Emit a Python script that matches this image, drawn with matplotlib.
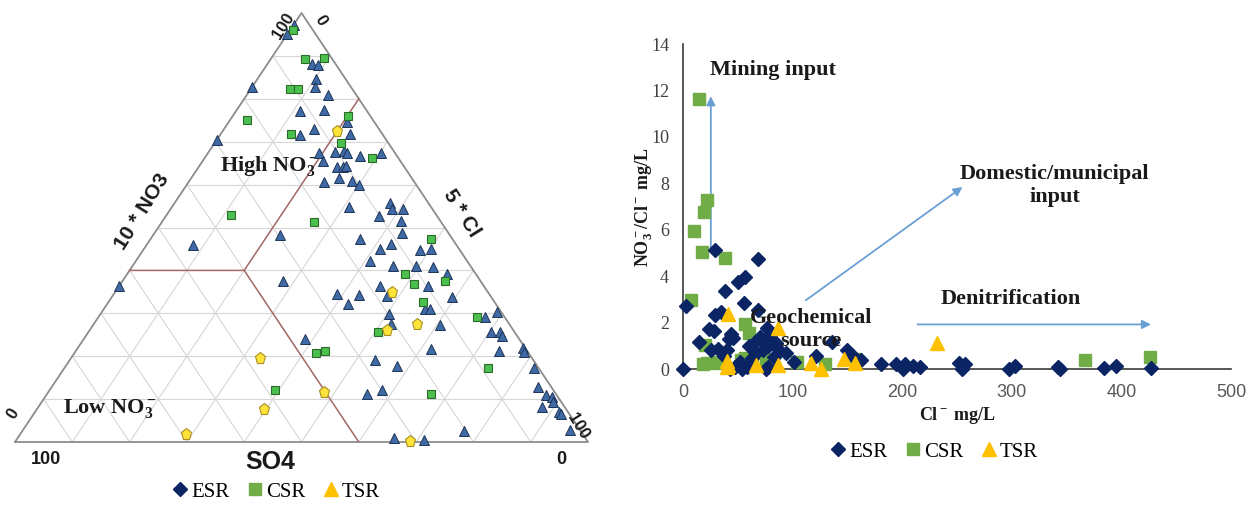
import matplotlib
matplotlib.use('Agg')
import matplotlib.pyplot as plt
from matplotlib.lines import Line2D
import numpy as np

plt.rcParams['mathtext.fontset'] = 'custom'
plt.rcParams['mathtext.rm'] = 'Liberation Serif:bold'
plt.rcParams['mathtext.it'] = 'Liberation Serif:italic:bold'
plt.rcParams['mathtext.bf'] = 'Liberation Serif:bold'

# ---------------- Ternary data (percent of 10*NO3 and 5*Cl; SO4 = remainder)
tern_esr_no3 = [97.3, 95.0, 88.0, 87.8, 84.5, 82.8, 80.9, 82.7, 77.1, 77.4, 74.6, 73.0, 71.6, 71.7,
                70.5, 67.4, 67.6, 67.8, 67.4, 66.7, 67.4, 65.5, 64.0, 64.0, 64.3, 60.6, 61.6, 60.9,
                59.8, 54.7, 55.8, 54.3, 54.3, 52.7, 51.6, 48.8, 48.2, 47.4, 45.1, 46.1, 44.8, 45.0,
                42.2, 41.1, 41.1, 40.9, 39.1, 36.3, 37.6, 46.0, 36.4, 34.5, 34.3, 32.2, 36.4, 34.1,
                31.0, 31.0, 29.8, 33.7, 27.5, 27.3, 29.1, 30.4, 25.6, 25.6, 24.7, 21.7, 21.1, 21.9,
                20.9, 24.0, 19.0, 17.8, 17.2, 12.8, 11.2, 12.2, 10.9, 10.5, 9.3, 8.1, 7.0, 6.6,
                2.6, 2.7, 0.9, 0.4]
tern_esr_cl = [0.1, 0.0, 7.8, 8.9, 10.3, 10.9, 14.1, 0.0, 11.2, 15.3, 20.6, 15.7, 14.0, 22.6,
               0.0, 19.3, 22.1, 23.6, 24.2, 26.9, 30.2, 21.0, 24.2, 25.2, 25.7, 23.7, 25.7, 28.3,
               30.1, 30.9, 37.5, 38.6, 40.5, 37.1, 41.6, 43.2, 22.2, 36.5, 41.1, 42.5, 48.2, 50.1,
               40.8, 45.4, 49.4, 52.5, 55.9, 54.0, 27.9, 8.1, 0.0, 39.0, 42.8, 42.1, 45.5, 47.8,
               56.1, 56.9, 50.3, 59.5, 51.8, 60.6, 67.4, 68.9, 70.3, 71.8, 72.6, 61.7, 74.0, 77.7,
               78.3, 38.6, 53.4, 57.7, 82.0, 84.9, 55.8, 58.0, 87.2, 88.4, 89.3, 87.9, 91.5, 92.0,
               77.1, 95.5, 65.7, 71.2]

tern_csr_no3 = [96.0, 89.3, 89.4, 82.2, 82.2, 75.0, 76.0, 71.9, 69.8, 66.3, 52.9, 51.3, 47.3, 39.1,
                36.8, 37.6, 32.7, 29.2, 25.6, 21.3, 20.8, 17.2, 12.2, 11.1]
tern_csr_cl = [0.5, 5.9, 9.3, 6.9, 8.3, 3.0, 20.1, 12.3, 22.0, 29.1, 11.2, 26.5, 49.0, 48.6,
               51.3, 56.3, 54.8, 66.0, 50.6, 43.5, 42.1, 73.9, 39.3, 67.1]

tern_tsr_no3 = [72.4, 34.9, 27.5, 26.2, 19.5, 11.6, 7.6, 1.8, 0.2]
tern_tsr_cl = [20.0, 48.3, 56.4, 51.8, 33.0, 48.2, 39.7, 29.0, 68.9]

# field boundaries (NO3 %, Cl %)
bound1_no3 = [40, 40, 0]
bound1_cl = [0, 20, 60]
bound2_no3 = [40, 80]
bound2_cl = [20, 20]

grid_levels = [10, 20, 30, 40, 50, 60, 70, 80, 90]

# ---------------- Scatter data (Cl mg/L, NO3/Cl)
esr_x = [0, 3, 29, 68, 38, 50, 57, 56, 68, 35, 29, 24, 28, 44, 42, 46, 15, 26, 32, 40, 37,
         77, 79, 72, 70, 78, 85, 88, 94, 73, 67, 63, 52, 47, 58, 43, 54, 76, 78, 66, 60, 83,
         101, 121, 136, 150, 155, 162, 181, 194, 203, 201, 210, 216, 252, 257, 255, 297, 303,
         342, 344, 384, 395, 427]
esr_y = [0.0, 2.72, 5.14, 4.75, 3.38, 3.76, 3.96, 2.85, 2.54, 2.45, 2.31, 1.72, 1.64, 1.5, 1.28,
         1.35, 1.15, 0.82, 0.88, 0.82, 0.55, 1.75, 1.48, 1.27, 1.37, 0.98, 1.1, 0.82, 0.68, 0.82,
         0.68, 0.46, 0.32, 0.08, 0.08, 0.0, 0.0, 0.0, 0.1, 1.15, 1.0, 0.5, 0.32, 0.55, 1.18, 0.8,
         0.55, 0.38, 0.22, 0.2, 0.2, 0.0, 0.14, 0.08, 0.24, 0.22, 0.02, 0.0, 0.14, 0.07, 0.0,
         0.06, 0.14, 0.05]
csr_x = [15, 22, 19, 10, 17, 38, 7, 20, 57, 60, 18, 22, 29, 34, 53, 57, 62, 63, 76, 82, 104,
         130, 157, 367, 426]
csr_y = [11.62, 7.29, 6.78, 5.94, 5.03, 4.8, 2.97, 1.03, 1.93, 1.55, 0.22, 0.28, 0.3, 0.25, 0.38,
         0.46, 0.35, 0.42, 0.42, 0.3, 0.3, 0.22, 0.45, 0.39, 0.53]
tsr_x = [41, 87, 232, 40, 40, 41, 67, 87, 117, 126, 147, 157]
tsr_y = [2.36, 1.77, 1.14, 0.35, 0.08, 0.18, 0.16, 0.17, 0.28, 0.02, 0.42, 0.28]

x_ticks = [0, 100, 200, 300, 400, 500]
y_ticks = [0, 2, 4, 6, 8, 10, 12, 14]

# process arrows (start, end) in data units
arrow_mining = [(25.4, 5.2), (25.4, 11.75)]
arrow_domestic = [(112, 2.96), (255, 7.84)]
arrow_denit = [(214, 1.92), (427, 1.92)]

series_names = ['ESR', 'CSR', 'TSR']

W, H = 1253, 508
fig = plt.figure(figsize=(W / 100, H / 100), dpi=100)


def tern_xy(no3, cl):
    h = np.asarray(no3, dtype=float) / 100.0
    c = np.asarray(cl, dtype=float) / 100.0
    return c + h / 2.0, h


# ================= Ternary =================
tl, tr, tb, tt = 15, 588, 442, 13
axt = fig.add_axes([tl / W, (H - tb) / H, (tr - tl) / W, (tb - tt) / H])
axt.set_xlim(0, 1)
axt.set_ylim(0, 1)
axt.axis('off')

gcol = '#d6d6d6'
for g in grid_levels:
    f = g / 100.0
    axt.plot([f / 2, 1 - f / 2], [f, f], color=gcol, lw=0.8, zorder=1)
    x0, y0 = tern_xy(0, g)
    x1, y1 = tern_xy(100 - g, g)
    axt.plot([x0, x1], [y0, y1], color=gcol, lw=0.8, zorder=1)
    x0, y0 = tern_xy(0, 100 - g)
    x1, y1 = tern_xy(100 - g, 0)
    axt.plot([x0, x1], [y0, y1], color=gcol, lw=0.8, zorder=1)

axt.plot([0, 1, 0.5, 0], [0, 0, 1, 0], color='#8c8c8c', lw=1.3, zorder=2, clip_on=False)

bx, by = tern_xy(bound1_no3, bound1_cl)
axt.plot(bx, by, color='#a86a6a', lw=1.1, zorder=3)
bx, by = tern_xy(bound2_no3, bound2_cl)
axt.plot(bx, by, color='#a86a6a', lw=1.1, zorder=3)

x, y = tern_xy(tern_esr_no3, tern_esr_cl)
axt.plot(x, y, '^', ms=7.6, mfc='#3f6aa6', mec='#1d3457', mew=0.7, ls='none', zorder=5, clip_on=False)
x, y = tern_xy(tern_csr_no3, tern_csr_cl)
axt.plot(x, y, 's', ms=6.2, mfc='#4cc04c', mec='#2a6a2a', mew=0.8, ls='none', zorder=5, clip_on=False)
x, y = tern_xy(tern_tsr_no3, tern_tsr_cl)
axt.plot(x, y, 'p', ms=8.2, mfc='#ffe23a', mec='#a89020', mew=0.8, ls='none', zorder=5, clip_on=False)

def pxt(px, py):
    return ((px - tl) / (tr - tl), (tb - py) / (tb - tt))

sans_b = dict(family='Liberation Sans', weight='bold', color='#1a1a1a')
axt.text(*pxt(283, 26), '100', fontsize=12, rotation=58, ha='center', va='center', **sans_b)
axt.text(*pxt(321, 20), '0', fontsize=12, rotation=-58, ha='center', va='center', **sans_b)
axt.text(*pxt(13, 414), '0', fontsize=12, rotation=58, ha='center', va='center', **sans_b)
axt.text(*pxt(578, 426), '100', fontsize=12, rotation=-58, ha='center', va='center', **sans_b)
axt.text(*pxt(46, 460), '100', fontsize=13, ha='center', va='center', **sans_b)
axt.text(*pxt(561, 460), '0', fontsize=13, ha='center', va='center', **sans_b)
axt.text(*pxt(270, 462), 'SO4', fontsize=18, ha='center', va='center', **sans_b)
axt.text(*pxt(142, 212), '10 * NO3', fontsize=15, rotation=58, ha='center', va='center', **sans_b)
axt.text(*pxt(462, 213), '5 * Cl', fontsize=15, rotation=-58, ha='center', va='center', **sans_b)

serif_b = dict(family='Liberation Serif', weight='bold', color='#1a1a1a')
axt.text(*pxt(269, 166), r'High NO$_3^-$', fontsize=16, ha='center', va='center', **serif_b)
axt.text(*pxt(110, 409), r'Low NO$_3^-$', fontsize=16, ha='center', va='center', **serif_b)

# ================= Scatter =================
x0p, x1p, y0p, y1p = 683, 1231, 369, 44
ax = fig.add_axes([x0p / W, (H - y0p) / H, (x1p - x0p) / W, (y0p - y1p) / H])
ax.set_xlim(0, 500)
ax.set_ylim(0, 14)
ax.set_xticks(x_ticks)
ax.set_yticks(y_ticks)
ax.tick_params(length=0)
ax.tick_params(axis='x', pad=11, labelsize=13, labelcolor='#595959')
ax.tick_params(axis='y', pad=10, labelsize=13, labelcolor='#404040')
for lab in ax.get_xticklabels():
    lab.set_family('Liberation Sans')
for lab in ax.get_yticklabels():
    lab.set_family('Liberation Serif')
for s in ['top', 'right']:
    ax.spines[s].set_visible(False)
for s in ['left', 'bottom']:
    ax.spines[s].set_color('#3a3a3a')
    ax.spines[s].set_linewidth(1.2)

c_esr, c_csr, c_tsr = '#0a2464', '#70ad47', '#ffc000'
ax.plot(esr_x, esr_y, 'D', ms=7.3, color=c_esr, ls='none', zorder=4, clip_on=False)
ax.plot(csr_x, csr_y, 's', ms=8.5, color=c_csr, ls='none', zorder=3, clip_on=False)
ax.plot(tsr_x, tsr_y, '^', ms=10, color=c_tsr, ls='none', zorder=5, clip_on=False)

acol = '#6a9fd4'
for (s, e) in [arrow_mining, arrow_domestic, arrow_denit]:
    ax.annotate('', xy=e, xytext=s,
                arrowprops=dict(arrowstyle='-|>', color=acol, lw=1.3, mutation_scale=13,
                                shrinkA=0, shrinkB=0), zorder=2)

ax.text(25, 12.9, 'Mining input', fontsize=16, ha='left', va='center', **serif_b)
ax.text(339, 7.9, 'Domestic/municipal\ninput', fontsize=16, ha='center', va='center',
        multialignment='center', linespacing=1.15, **serif_b)
ax.text(235, 3.0, 'Denitrification', fontsize=16, ha='left', va='center', **serif_b)
ax.text(117, 1.7, 'Geochemical\nsource', fontsize=16, ha='center', va='center',
        multialignment='center', linespacing=1.15, zorder=6, **serif_b)

ax.set_xlabel(r'Cl$^-$ mg/L', fontsize=13, labelpad=3, **serif_b)
ax.set_ylabel(r'NO$_3^-$/Cl$^-$ mg/L', fontsize=13, labelpad=-3, **serif_b)

# ================= Legends =================
def make_handles():
    return [Line2D([], [], marker='D', ms=7, color=c_esr, ls='none'),
            Line2D([], [], marker='s', ms=8.5, color=c_csr, ls='none'),
            Line2D([], [], marker='^', ms=10, color=c_tsr, ls='none')]

legkw = dict(ncol=3, frameon=False, handletextpad=0.05, columnspacing=0.7, handlelength=1.0,
             prop={'family': 'Liberation Serif', 'size': 15}, loc='center', borderaxespad=0)
fig.legend(make_handles(), series_names, bbox_to_anchor=(275 / W, 1 - 492 / H), **legkw)
fig.legend(make_handles(), series_names, bbox_to_anchor=(933 / W, 1 - 452 / H), **legkw)

fig.savefig('out.png', dpi=100)
